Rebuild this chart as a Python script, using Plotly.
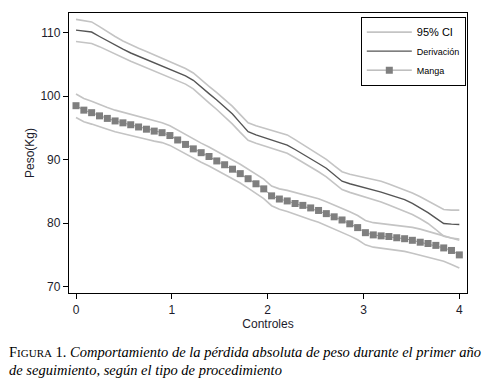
import plotly.graph_objects as go

controles = [0, 0.082, 0.163, 0.245, 0.327, 0.408, 0.490, 0.571, 0.653, 0.735,
             0.816, 0.898, 0.980, 1.061, 1.143, 1.224, 1.306, 1.388, 1.469, 1.551,
             1.633, 1.714, 1.796, 1.878, 1.959, 2.041, 2.122, 2.204, 2.286, 2.367,
             2.449, 2.531, 2.612, 2.694, 2.776, 2.857, 2.939, 3.020, 3.102, 3.184,
             3.265, 3.347, 3.429, 3.510, 3.592, 3.673, 3.755, 3.837, 3.918, 4.0]

derivacion = [110.4, 110.3, 110.1, 109.4, 108.7, 108.0, 107.4, 106.8, 106.3, 105.8,
              105.3, 104.8, 104.2, 103.7, 103.2, 102.5, 101.4, 100.4, 99.4, 98.3,
              97.2, 95.8, 94.4, 93.9, 93.5, 93.1, 92.7, 92.3, 91.6, 90.9,
              90.2, 89.4, 88.65, 87.6, 86.6, 86.2, 85.9, 85.6, 85.3, 84.9,
              84.5, 84.1, 83.7, 83.1, 82.4, 81.65, 80.8, 79.95, 79.85, 79.8]
derivacion_sup = [112.1, 111.95, 111.7, 110.95, 110.15, 109.4, 108.7, 108.1, 107.55, 107.05,
                  106.5, 106.0, 105.4, 104.85, 104.35, 103.65, 102.55, 101.55, 100.55, 99.45,
                  98.4, 97.1, 95.8, 95.35, 95.0, 94.65, 94.3, 93.9, 93.15, 92.4,
                  91.65, 90.8, 90.05, 89.05, 88.1, 87.7, 87.45, 87.2, 86.95, 86.6,
                  86.15, 85.7, 85.3, 84.75, 84.15, 83.5, 82.8, 82.15, 82.05, 82.05]
derivacion_inf = [108.6, 108.5, 108.3, 107.8, 107.2, 106.6, 106.1, 105.5, 105.0, 104.5,
                  104.0, 103.5, 102.9, 102.4, 101.9, 101.15, 100.0, 98.95, 97.9, 96.75,
                  95.6, 94.3, 93.05, 92.6, 92.2, 91.8, 91.4, 91.0, 90.3, 89.6,
                  88.9, 88.1, 87.3, 86.3, 85.3, 84.85, 84.5, 84.15, 83.8, 83.35,
                  82.85, 82.35, 81.9, 81.35, 80.7, 79.95, 79.0, 77.95, 77.65, 77.5]

manga = [98.5, 97.8, 97.4, 96.9, 96.5, 96.1, 95.8, 95.5, 95.15, 94.8,
         94.5, 94.25, 93.8, 93.1, 92.4, 91.7, 91.1, 90.5, 89.8, 89.2,
         88.5, 87.8, 87.0, 86.2, 85.4, 84.3, 83.8, 83.5, 83.1, 82.8,
         82.4, 82.0, 81.5, 81.0, 80.5, 79.9, 79.3, 78.5, 78.15, 78.0,
         77.9, 77.7, 77.55, 77.3, 77.0, 76.8, 76.5, 76.1, 75.7, 75.0]
manga_sup = [100.35, 99.63, 99.2, 98.65, 98.22, 97.8, 97.47, 97.14, 96.75, 96.39,
             96.08, 95.81, 95.35, 94.64, 93.93, 93.22, 92.6, 91.99, 91.28, 90.67,
             89.95, 89.27, 88.49, 87.71, 86.93, 85.85, 85.4, 85.16, 84.82, 84.58,
             84.25, 83.86, 83.37, 82.88, 82.39, 81.8, 81.21, 80.42, 80.08, 79.94,
             79.85, 79.67, 79.55, 79.33, 79.06, 78.75, 78.35, 78.0, 77.7, 77.3]
manga_inf = [96.65, 95.97, 95.6, 95.15, 94.78, 94.4, 94.13, 93.86, 93.55, 93.21,
             92.92, 92.69, 92.25, 91.56, 90.87, 90.18, 89.6, 89.01, 88.32, 87.73,
             87.05, 86.33, 85.51, 84.69, 83.87, 82.75, 82.2, 81.84, 81.38, 81.02,
             80.55, 80.14, 79.63, 79.12, 78.61, 78.0, 77.39, 76.58, 76.22, 76.06,
             75.95, 75.73, 75.55, 75.27, 74.94, 74.7, 74.38, 74.0, 73.5, 72.95]

x_ticks = [0, 1, 2, 3, 4]
y_ticks = [70, 80, 90, 100, 110]

CI_COLOR = "#c4c4c4"
DER_COLOR = "#555555"
MANGA_COLOR = "#7f7f7f"
TXT = "#1c1c2c"

fig = go.Figure()
ci_sets = [derivacion_sup, derivacion_inf, manga_sup, manga_inf]
for k, ys in enumerate(ci_sets):
    fig.add_trace(go.Scatter(x=controles, y=ys, mode="lines",
                             line=dict(color=CI_COLOR, width=1.6),
                             name='<span style="font-size:11px">95% CI</span>',
                             showlegend=(k == 0), hoverinfo="skip"))
fig.add_trace(go.Scatter(x=controles, y=derivacion, mode="lines",
                         line=dict(color=DER_COLOR, width=1.4),
                         name="Derivación"))
fig.add_trace(go.Scatter(x=controles, y=manga, mode="lines+markers",
                         line=dict(color="#9a9a9a", width=1),
                         marker=dict(symbol="square", size=7, color=MANGA_COLOR),
                         name="Manga"))

axis_common = dict(showline=True, linecolor="black", linewidth=1.3, mirror=True,
                   ticks="outside", ticklen=5, tickwidth=1.2, tickcolor="black",
                   showgrid=False, zeroline=False,
                   tickfont=dict(family="Liberation Sans, Arial", size=12, color=TXT))

# the page body adds an 8px offset, so the figure is 8px smaller and left/top margins shifted
fig.update_layout(
    width=493, height=381,
    margin=dict(l=61, r=34, t=5, b=96),
    paper_bgcolor="white", plot_bgcolor="white",
    xaxis=dict(range=[-0.073, 4.08], tickvals=x_ticks,
               title=dict(text="Controles", standoff=0,
                          font=dict(family="Liberation Sans, Arial", size=12, color=TXT)),
               **axis_common),
    yaxis=dict(range=[69.0, 113.1], tickvals=y_ticks,
               title=dict(text="Peso(Kg)", standoff=3,
                          font=dict(family="Liberation Sans, Arial", size=12, color=TXT)),
               **axis_common),
    legend=dict(x=0.997, y=0.987, xanchor="right", yanchor="top",
                bgcolor="white", bordercolor="black", borderwidth=1,
                font=dict(family="Liberation Sans, Arial", size=9, color="black"),
                itemwidth=45, tracegroupgap=0),
    showlegend=True,
)

fig.add_annotation(
    xref="paper", yref="paper", x=-0.155, y=-0.21, xanchor="left", yanchor="middle",
    showarrow=False, align="left",
    text='F<span style="font-size:11px">IGURA</span> 1. <i>Comportamiento de la pérdida absoluta de peso durante el primer año</i>',
    font=dict(family="Liberation Serif, Times New Roman", size=14.5, color="black"))
fig.add_annotation(
    xref="paper", yref="paper", x=-0.155, y=-0.275, xanchor="left", yanchor="middle",
    showarrow=False, align="left",
    text='<i>de seguimiento, según el tipo de procedimiento</i>',
    font=dict(family="Liberation Serif, Times New Roman", size=14.5, color="black"))

fig.write_html("out.html")
